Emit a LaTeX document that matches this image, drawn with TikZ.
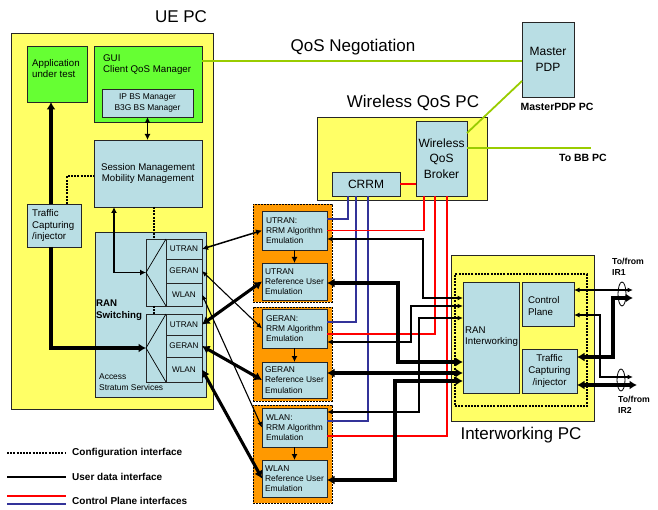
\documentclass[tikz,border=0pt]{standalone}
\usepackage{fontspec}
\setmainfont{Liberation Sans}
\usetikzlibrary{arrows.meta,shapes.geometric,calc}
\definecolor{pcyellow}{RGB}{255,255,102}
\definecolor{appgreen}{RGB}{102,255,51}
\definecolor{modblue}{RGB}{185,222,228}
\definecolor{emuorange}{RGB}{255,153,0}
\definecolor{qosgreen}{RGB}{153,204,0}
\definecolor{cpred}{RGB}{255,0,0}
\definecolor{cpblue}{RGB}{51,51,153}
% rectangular node given by its two corners: name, style, x1, y1, x2, y2, text
\newcommand\cornerbox[7]{%
  \node[#2, minimum width={(#5-#3)*1pt}, minimum height={(#6-#4)*1pt}]
    (#1) at ({(#3+#5)/2},{(#4+#6)/2}) {#7};}
\begin{document}
\begin{tikzpicture}[x=1pt,y=-1pt,
  box/.style={draw=black!85, line width=0.8pt, inner sep=0pt, outer sep=0pt, align=center},
  pcbox/.style={box, fill=pcyellow},
  greenbox/.style={box, fill=appgreen},
  modbox/.style={box, fill=modblue},
  emubox/.style={draw=black, line width=0.9pt, dash pattern=on 2pt off 1pt,
                 fill=emuorange, inner sep=0pt, outer sep=0pt},
  title/.style={font=\fontsize{17}{20}\selectfont, inner sep=0pt},
  lbl/.style={inner sep=0pt, align=left},
  small/.style={font=\fontsize{8.4}{10.3}\selectfont},
  swfont/.style={font=\fontsize{8.2}{10}\selectfont},
  mid/.style={font=\fontsize{9.7}{11.3}\selectfont},
  midc/.style={font=\fontsize{9.7}{11.8}\selectfont},
  big/.style={font=\fontsize{12}{15.5}\selectfont},
  boldlbl/.style={font=\bfseries\fontsize{10.5}{12}\selectfont, inner sep=0pt, align=left},
  legend/.style={font=\bfseries\fontsize{10}{12}\selectfont, inner sep=0pt},
  thinlink/.style={draw=black, line width=1.1pt, >={Latex[length=5.5pt,width=5pt]}},
  medlink/.style={draw=black, line width=1.5pt, >={Latex[length=6pt,width=6pt]}},
  datalink/.style={draw=black, line width=3.1pt, >={Latex[length=7.5pt,width=9pt]}},
  cfglink/.style={draw=black, line width=1.2pt, dash pattern=on 2pt off 1.2pt},
  redlink/.style={draw=cpred, line width=1.9pt},
  bluelink/.style={draw=cpblue, line width=1.9pt},
  qoslink/.style={draw=qosgreen, line width=1.8pt},
  ring/.style={draw=black, ellipse, line width=0.8pt, inner sep=0pt, minimum width=8pt},
]
\useasboundingbox (0,0) rectangle (658,510);

% ---------------- UE PC ----------------
\cornerbox{ue}{pcbox}{11}{33}{213}{409}{}
\node[title] (uetitle) at (181,17) {UE PC};
\cornerbox{app}{greenbox}{27}{46}{87}{102}{}
\node[lbl, mid, anchor=north west] (apptext) at (32,59) {Application\\under test};
\cornerbox{gui}{greenbox}{94}{46}{202}{122}{}
\node[lbl, mid, anchor=north west] (guitext) at (103,54.5) {GUI\\Client QoS Manager};
\cornerbox{ipbs}{modbox, small}{102}{89}{193}{117}{IP BS Manager\\B3G BS Manager}
\cornerbox{sess}{modbox, midc}{94}{140}{202}{207}{Session Management\\Mobility Management}
\cornerbox{traf}{modbox}{27}{204}{81}{247}{}
\node[lbl, mid, anchor=north west] (traftext) at (32,209.5) {Traffic\\Capturing\\/injector};
\cornerbox{ran}{modbox}{95}{232}{206}{397}{}
\node[lbl, font=\bfseries\fontsize{9.7}{12}\selectfont, anchor=north west] (rantext) at (96,299.5) {RAN\\Switching};
\node[lbl, small, anchor=north west] (astext) at (99,374) {Access\\Stratum Services};

% radio access switches
\cornerbox{sw1}{modbox}{146}{239}{166}{306}{}
\cornerbox{u1}{modbox, swfont}{166}{239}{202}{259}{UTRAN}
\cornerbox{g1}{modbox, swfont}{166}{259}{202}{283}{GERAN}
\cornerbox{w1}{modbox, swfont}{166}{283}{202}{306}{WLAN}
\cornerbox{sw2}{modbox}{146}{314}{166}{382}{}
\cornerbox{u2}{modbox, swfont}{166}{314}{202}{335}{UTRAN}
\cornerbox{g2}{modbox, swfont}{166}{335}{202}{357}{GERAN}
\cornerbox{w2}{modbox, swfont}{166}{357}{202}{382}{WLAN}
\draw[line width=0.7pt] (sw1.north east) -- (sw1.west) -- (sw1.south east);
\draw[line width=0.7pt] (sw2.north east) -- (sw2.west) -- (sw2.south east);

% ---------------- Master PDP ----------------
\cornerbox{pdp}{modbox, big}{522}{22}{574}{97}{Master\\PDP}
\node[boldlbl] (pdptitle) at (557,107) {MasterPDP PC};
\node[title] (qostitle) at (353,47) {QoS Negotiation};

% ---------------- Wireless QoS PC ----------------
\cornerbox{wq}{pcbox}{317}{117}{487}{200}{}
\node[title] (wqtitle) at (413,103) {Wireless QoS PC};
\cornerbox{broker}{modbox, big}{416}{121}{467}{196}{Wireless\\QoS\\Broker}
\cornerbox{crrm}{modbox, big}{332}{172}{400}{196}{CRRM}
\node[boldlbl] (bbtext) at (583,158) {To BB PC};

% ---------------- radio access emulators ----------------
\cornerbox{o1}{emubox}{253}{204}{332}{302}{}
\cornerbox{o2}{emubox}{253}{307}{332}{401}{}
\cornerbox{o3}{emubox}{253}{405}{332}{503}{}
\cornerbox{ur}{modbox, small, align=left}{262}{211}{327}{250}{UTRAN:\\RRM Algorithm\\Emulation}
\cornerbox{uref}{modbox, small, align=left}{262}{263}{327}{300}{UTRAN\\Reference User\\Emulation}
\cornerbox{gr}{modbox, small, align=left}{262}{309}{327}{348}{GERAN:\\RRM Algorithm\\Emulation}
\cornerbox{gref}{modbox, small, align=left}{262}{362}{327}{398}{GERAN\\Reference User\\Emulation}
\cornerbox{wr}{modbox, small, align=left}{262}{408}{327}{447}{WLAN:\\RRM Algorithm\\Emulation}
\cornerbox{wref}{modbox, small, align=left}{262}{460}{327}{497}{WLAN\\Reference User\\Emulation}

% ---------------- Interworking PC ----------------
\cornerbox{iw}{pcbox}{451}{255}{594}{421}{}
\node[title] (iwtitle) at (521,435) {Interworking PC};
\node[draw=black, line width=1.1pt, dash pattern=on 2pt off 1.2pt, inner sep=0pt,
      minimum width=132pt, minimum height=132pt] (iwcore) at (521,340) {};
\cornerbox{ranw}{modbox}{463}{282}{519}{393}{}
\node[lbl, mid, anchor=north west] (ranwtext) at (465,326.5) {RAN\\Interworking};
\cornerbox{cp}{modbox}{522}{282}{574}{326}{}
\node[lbl, mid, anchor=north west] (cptext) at (528,296.5) {Control\\Plane};
\cornerbox{tc}{modbox, midc}{522}{349}{577}{393}{Traffic\\Capturing\\/injector}
\node[boldlbl, font=\bfseries\fontsize{8.7}{11}\selectfont, anchor=north west] (ir1text) at (612,258) {To/from\\IR1};
\node[boldlbl, font=\bfseries\fontsize{8.7}{11}\selectfont, anchor=north west] (ir2text) at (618,396) {To/from\\IR2};

% ---------------- links inside the UE ----------------
\draw[datalink,->] ([xshift=-3pt]traf.north) -- ([xshift=-6pt]app.south);
\draw[cfglink] ([xshift=13pt]traf.north) |- ($(sess.west)+(0,2.5)$);
\draw[datalink,->] ([xshift=-3pt]traf.south) |- (sw2.west);
\draw[medlink,<->] ([xshift=-34pt]sess.south) |- (sw1.west);
\draw[cfglink] ($(sw1.north |- sess.south)+(-2,0)$) -- ($(sw1.north)+(-2,0)$);
\draw[cfglink] ($(sw1.south)+(-2,0)$) -- ($(sw2.north)+(-2,0)$);
\draw[medlink,<->] (ipbs.south) -- (ipbs.south |- sess.north);

% ---------------- QoS negotiation links ----------------
\coordinate (qin) at ($(pdp.west)+(0,1.5)$);
\draw[qoslink] (gui.east |- qin) -- (qin);
\draw[qoslink] ($(broker.east)+(0,-25.5)$) -- ($(pdp.south west)+(0,-16)$);
\coordinate (bbend) at (591,148);
\draw[qoslink] (broker.east |- bbend) -- (bbend);
\draw[redlink] (crrm.east) -- (crrm.east -| broker.west);

% ---------------- UE to emulators ----------------
\draw[medlink,<->] (u1.east) -- (ur.west);
\draw[thinlink,<->] (g1.east) -- (gr.west);
\draw[thinlink,<->] (w1.east) -- (wr.west);
\draw[datalink,<->] (u2.east) -- (uref.west);
\draw[datalink,<->] (g2.east) -- (gref.west);
\draw[datalink,<->] (w2.east) -- (wref.west);
\draw[medlink,->] (ur.south) -- (uref.north);
\draw[medlink,->] (gr.south) -- (gref.north);
\draw[medlink,->] (wr.south) -- (wref.north);

% ---------------- control plane links ----------------
\draw[bluelink] ($(crrm.south)+(-18,0)$) |- ($(ur.east)+(0,-11.5)$);
\draw[bluelink] ($(crrm.south)+(-10,0)$) |- ($(gr.east)+(0,-6.5)$);
\draw[bluelink] ($(crrm.south)+(2,0)$) |- ($(wr.east)+(0,-6.5)$);
\draw[redlink] ($(broker.south)+(-17.5,0)$) |- (ur.east);
\draw[redlink] ($(broker.south)+(-6.5,0)$) |- ($(gr.east)+(0,5.5)$);
\draw[redlink] ($(broker.south)+(5.5,0)$) |- ($(wr.east)+(0,8.5)$);

% ---------------- emulators to RAN interworking ----------------
\draw[thinlink,<->] ($(ur.east)+(0,8.5)$) -- ++(96,0) |- ($(ranw.west)+(0,-39.5)$);
\draw[thinlink,<->] ($(gr.east)+(0,13.5)$) -- ++(84,0) |- ($(ranw.west)+(0,-31.5)$);
\draw[thinlink,<->] ($(wr.east)+(0,-15.5)$) -- ++(92,0) |- ($(ranw.west)+(0,-19.5)$);
\draw[datalink,<->] ($(uref.east)+(0,1.5)$) -- ++(71,0) |- ($(ranw.west)+(0,24.5)$);
\draw[datalink,<->] ($(gref.east)+(0,-7)$) -- ($(gref.east -| ranw.west)+(0,-7)$);
\draw[datalink,<->] ($(wref.east)+(0,1.5)$) -- ++(68,0) |- ($(ranw.west)+(0,43.5)$);

% ---------------- external interfaces ----------------
\coordinate (ir1a) at (633,290);
\coordinate (ir1b) at (633,298);
\coordinate (ir2a) at (633,377);
\coordinate (ir2b) at (637,385);
\draw[thinlink,<->] (cp.east |- ir1a) -- (ir1a);
\draw[thinlink,<->] ($(cp.east)+(0,11)$) -- ++(26,0) |- (ir2a);
\draw[datalink,<->] ($(tc.east)+(0,-14)$) -- ++(36,0) |- (ir1b);
\draw[datalink,<->] (tc.east |- ir2b) -- (ir2b);
\node[ring, minimum height=24pt] (ring1) at (622,294) {};
\node[ring, minimum height=22pt] (ring2) at (621,380) {};

% ---------------- legend ----------------
\coordinate (lg1a) at (7,453); \coordinate (lg1b) at (66,453);
\coordinate (lg2a) at (7,477); \coordinate (lg2b) at (66,477);
\coordinate (lg3a) at (7,496); \coordinate (lg3b) at (66,496);
\coordinate (lg4a) at (7,504); \coordinate (lg4b) at (66,504);
\draw[cfglink] (lg1a) -- (lg1b);
\draw[black, line width=2.3pt] (lg2a) -- (lg2b);
\draw[redlink] (lg3a) -- (lg3b);
\draw[bluelink] (lg4a) -- (lg4b);
\node[legend, anchor=west] (lg1t) at (72,453) {Configuration interface};
\node[legend, anchor=west] (lg2t) at (72,477) {User data interface};
\node[legend, anchor=west] (lg3t) at (72,501) {Control Plane interfaces};
\end{tikzpicture}
\end{document}
